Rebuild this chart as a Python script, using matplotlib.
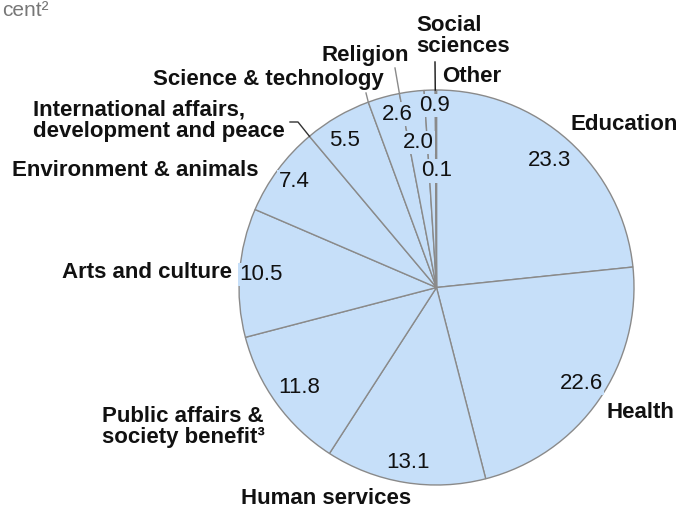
import matplotlib.pyplot as plt
import numpy as np

plt.rcParams['font.family'] = ['Liberation Sans', 'DejaVu Sans']

categories = ["Education", "Health", "Human services",
              "Public affairs &\nsociety benefit³", "Arts and culture",
              "Environment & animals",
              "International affairs,\ndevelopment and peace",
              "Science & technology", "Religion", "Social\nsciences", "Other"]
values = [23.3, 22.6, 13.1, 11.8, 10.5, 7.4, 5.5, 2.6, 2.0, 0.9, 0.1]
title = "cent²"

# layout (pixels, y down)
cx, cy, R = 436.5, 287.5, 197.5
fill = "#c6dff9"
edge = "#8a8a8a"

# value label placement: radius fraction and angle nudge (deg)
val_r = [0.86, 0.88, 0.9, 0.86, 0.89, 0.9, 0.88, 0.9, 0.74, 0.92, 0.59]
val_da = [-0.5, -1.3, 0, 0, 0, 0, -2, 2.9, 0, 1.5, 0]

# category label positions
cat_pos = [(571, 125, "left"), (607, 413, "left"), (326, 498, "center"),
           (102, 427, "left"), (232, 272, "right"), (259, 170, "right"),
           (33, 121, "left"), (384, 80, "right"), (409, 55, "right"),
           (416, 36, "left"), (442, 77, "left")]

fig = plt.figure(figsize=(6.8, 5.11), dpi=100)
ax = fig.add_axes([0, 0, 1, 1])
wedges, _ = ax.pie(values, center=(cx, cy), radius=R, startangle=-90,
                   counterclock=True, colors=[fill] * len(values),
                   wedgeprops=dict(edgecolor=edge, linewidth=1.0))
ax.set_xlim(0, 680)
ax.set_ylim(511, 0)
ax.set_aspect('auto')
ax.axis('off')

for w, v, r, da in zip(wedges, values, val_r, val_da):
    th = np.deg2rad((w.theta1 + w.theta2) / 2 + da)
    x = cx + r * R * np.cos(th)
    y = cy + r * R * np.sin(th)
    ax.text(x, y, f"{v:.1f}", ha="center", va="center", fontsize=16,
            color="#111111",
            bbox=dict(boxstyle="square,pad=0.05", fc=fill, ec="none"))

for name, (x, y, ha) in zip(categories, cat_pos):
    ax.text(x, y, name, ha=ha, va="center", fontsize=16, fontweight="bold",
            color="#111111", linespacing=1.05)

# leader lines: (wedge index, start points, which edge of the wedge)
leaders = [(6, [(290, 122), (298, 122)], "theta1", "#333333"),
           (7, [(366, 93)], "theta1", edge),
           (8, [(395, 68)], "theta1", edge),
           (9, [(435, 62)], "theta2", "#111111")]
for i, pts, side, col in leaders:
    th = np.deg2rad(getattr(wedges[i], side))
    ex = cx + R * np.cos(th)
    ey = cy + R * np.sin(th)
    xs = [p[0] for p in pts] + [ex]
    ys = [p[1] for p in pts] + [ey]
    ax.plot(xs, ys, color=col, linewidth=1.0)

ax.text(2, 10, title, ha="left", va="center", fontsize=15, color="#777777")

fig.savefig("out.png", dpi=100)
